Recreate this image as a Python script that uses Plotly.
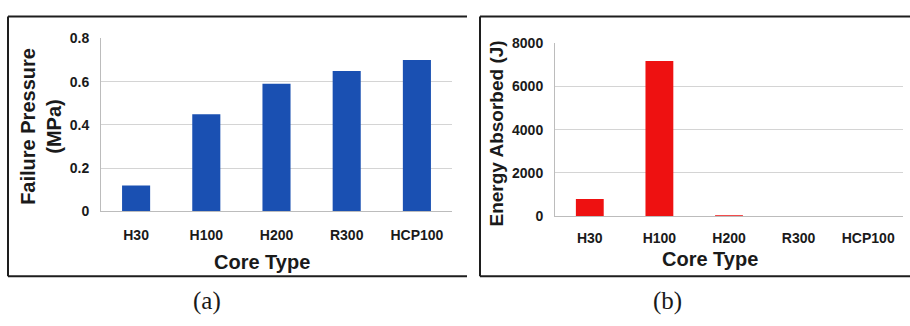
import plotly.graph_objects as go

# Core types and measured results
core_types = ["H30", "H100", "H200", "R300", "HCP100"]
failure_pressure = [0.12, 0.45, 0.59, 0.65, 0.70]      # MPa
energy_absorbed = [800, 7180, 25, 0, 0]                 # J

pressure_ticks = [0, 0.2, 0.4, 0.6, 0.8]
pressure_ticktext = ["0", "0.2", "0.4", "0.6", "0.8"]
energy_ticks = [0, 2000, 4000, 6000, 8000]
energy_ticktext = ["0", "2000", "4000", "6000", "8000"]

W, H = 910, 326


def px(x):
    return x / W


def py(y):
    return 1 - y / H


BLUE = "#1a50b2"
RED = "#ee1111"
GRID = "#d4d4d4"
AXIS = "#bcbcbc"
FRAME = "#1e1e1e"
SANS = "Liberation Sans, Arial, sans-serif"
SERIF = "Liberation Serif, Times New Roman, serif"

fig = go.Figure()
fig.add_trace(go.Bar(x=core_types, y=failure_pressure, marker_color=BLUE,
                     marker_line_width=0, width=0.4, xaxis="x", yaxis="y"))
fig.add_trace(go.Bar(x=core_types, y=energy_absorbed, marker_color=RED,
                     marker_line_width=0, width=0.4, xaxis="x2", yaxis="y2"))

tickfont = dict(family=SANS, size=14, color="#1a1a1a", weight="bold")

common_x = dict(type="category", range=[-0.5, 4.5], showgrid=False,
                showline=True, linecolor=AXIS, linewidth=1, ticks="",
                tickfont=tickfont, fixedrange=True)
common_y = dict(showgrid=True, gridcolor=GRID, gridwidth=1, showline=True,
                linecolor=AXIS, linewidth=1, ticks="", zeroline=False,
                tickfont=tickfont, ticklabelstandoff=8, fixedrange=True)

fig.update_layout(
    width=W, height=H,
    margin=dict(l=0, r=0, t=0, b=0),
    paper_bgcolor="white", plot_bgcolor="white",
    showlegend=False,
    xaxis=dict(domain=[px(101), px(452)], anchor="y", ticklabelstandoff=11,
               **common_x),
    yaxis=dict(domain=[py(214), py(32)], anchor="x", range=[0, 0.8],
               tickvals=pressure_ticks, ticktext=pressure_ticktext, **common_y),
    xaxis2=dict(domain=[px(555), px(903)], anchor="y2", ticklabelstandoff=9,
                **common_x),
    yaxis2=dict(domain=[py(219), py(37)], anchor="x2", range=[0, 8000],
                tickvals=energy_ticks, ticktext=energy_ticktext, **common_y),
)

titlefont = dict(family=SANS, size=20, color="#1a1a1a", weight="bold")
annotations = [
    dict(text="Core Type", x=px(262), y=py(267), font=titlefont),
    dict(text="Core Type", x=px(710), y=py(264), font=titlefont),
    dict(text="Failure Pressure<br>(MPa)", x=px(41), y=py(125), textangle=-90,
         font=titlefont),
    dict(text="Energy Absorbed (J)", x=px(497), y=py(132), textangle=-90,
         font=dict(family=SANS, size=19, color="#1a1a1a", weight="bold")),
    dict(text="(a)", x=px(207), y=py(308),
         font=dict(family=SERIF, size=25, color="#1a1a1a")),
    dict(text="(b)", x=px(667), y=py(308),
         font=dict(family=SERIF, size=25, color="#1a1a1a")),
]
for a in annotations:
    a.update(xref="paper", yref="paper", showarrow=False,
             xanchor="center", yanchor="middle")
fig.update_layout(annotations=annotations)

# Panel frames (open on the right side)
frame = dict(type="line", xref="paper", yref="paper",
             line=dict(color=FRAME, width=2))
shapes = []
for x0, x1 in [(8, 467), (480, 910)]:
    shapes.append(dict(x0=px(x0), x1=px(x1), y0=py(9), y1=py(9), **frame))
    shapes.append(dict(x0=px(x0), x1=px(x1), y0=py(282), y1=py(282), **frame))
    shapes.append(dict(x0=px(x0), x1=px(x0), y0=py(9), y1=py(282), **frame))
fig.update_layout(shapes=shapes)

fig.write_html("out.html", config={"displayModeBar": False})
